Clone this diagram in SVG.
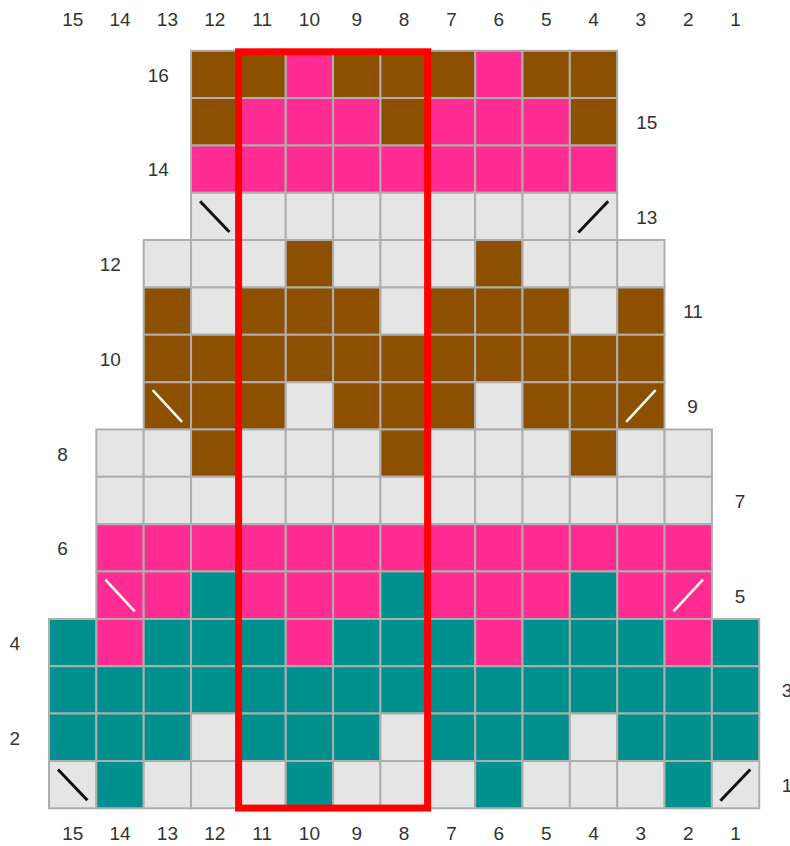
<svg xmlns="http://www.w3.org/2000/svg" width="790" height="846" viewBox="0 0 790 846">
<style>
rect.c{stroke:#aeaeae;stroke-width:2;vector-effect:non-scaling-stroke;width:1px;height:1px}
.g{fill:#e5e5e5}.b{fill:#8c5000}.p{fill:#ff2d91}.t{fill:#00918e}
line.k{stroke:#111;stroke-width:3;vector-effect:non-scaling-stroke}
line.w{stroke:#fff;stroke-width:2.5;vector-effect:non-scaling-stroke}
text{font-family:"Liberation Sans",Arial,sans-serif;font-size:19px;fill:#333;text-anchor:middle}
</style>
<rect width="790" height="846" fill="#fff"/>
<g id="chart" transform="translate(49 50.7) scale(47.35)">
<g id="row16">
<rect class="c b" x="3" y="0" width="1" height="1"/><rect class="c b" x="4" y="0" width="1" height="1"/><rect class="c p" x="5" y="0" width="1" height="1"/><rect class="c b" x="6" y="0" width="1" height="1"/><rect class="c b" x="7" y="0" width="1" height="1"/><rect class="c b" x="8" y="0" width="1" height="1"/><rect class="c p" x="9" y="0" width="1" height="1"/><rect class="c b" x="10" y="0" width="1" height="1"/><rect class="c b" x="11" y="0" width="1" height="1"/>
</g>
<g id="row15">
<rect class="c b" x="3" y="1" width="1" height="1"/><rect class="c p" x="4" y="1" width="1" height="1"/><rect class="c p" x="5" y="1" width="1" height="1"/><rect class="c p" x="6" y="1" width="1" height="1"/><rect class="c b" x="7" y="1" width="1" height="1"/><rect class="c p" x="8" y="1" width="1" height="1"/><rect class="c p" x="9" y="1" width="1" height="1"/><rect class="c p" x="10" y="1" width="1" height="1"/><rect class="c b" x="11" y="1" width="1" height="1"/>
</g>
<g id="row14">
<rect class="c p" x="3" y="2" width="1" height="1"/><rect class="c p" x="4" y="2" width="1" height="1"/><rect class="c p" x="5" y="2" width="1" height="1"/><rect class="c p" x="6" y="2" width="1" height="1"/><rect class="c p" x="7" y="2" width="1" height="1"/><rect class="c p" x="8" y="2" width="1" height="1"/><rect class="c p" x="9" y="2" width="1" height="1"/><rect class="c p" x="10" y="2" width="1" height="1"/><rect class="c p" x="11" y="2" width="1" height="1"/>
</g>
<g id="row13">
<rect class="c g" x="3" y="3" width="1" height="1"/><rect class="c g" x="4" y="3" width="1" height="1"/><rect class="c g" x="5" y="3" width="1" height="1"/><rect class="c g" x="6" y="3" width="1" height="1"/><rect class="c g" x="7" y="3" width="1" height="1"/><rect class="c g" x="8" y="3" width="1" height="1"/><rect class="c g" x="9" y="3" width="1" height="1"/><rect class="c g" x="10" y="3" width="1" height="1"/><rect class="c g" x="11" y="3" width="1" height="1"/>
<line class="k" x1="3.19" y1="3.18" x2="3.81" y2="3.83"/>
<line class="k" x1="11.18" y1="3.84" x2="11.81" y2="3.18"/>
</g>
<g id="row12">
<rect class="c g" x="2" y="4" width="1" height="1"/><rect class="c g" x="3" y="4" width="1" height="1"/><rect class="c g" x="4" y="4" width="1" height="1"/><rect class="c b" x="5" y="4" width="1" height="1"/><rect class="c g" x="6" y="4" width="1" height="1"/><rect class="c g" x="7" y="4" width="1" height="1"/><rect class="c g" x="8" y="4" width="1" height="1"/><rect class="c b" x="9" y="4" width="1" height="1"/><rect class="c g" x="10" y="4" width="1" height="1"/><rect class="c g" x="11" y="4" width="1" height="1"/><rect class="c g" x="12" y="4" width="1" height="1"/>
</g>
<g id="row11">
<rect class="c b" x="2" y="5" width="1" height="1"/><rect class="c g" x="3" y="5" width="1" height="1"/><rect class="c b" x="4" y="5" width="1" height="1"/><rect class="c b" x="5" y="5" width="1" height="1"/><rect class="c b" x="6" y="5" width="1" height="1"/><rect class="c g" x="7" y="5" width="1" height="1"/><rect class="c b" x="8" y="5" width="1" height="1"/><rect class="c b" x="9" y="5" width="1" height="1"/><rect class="c b" x="10" y="5" width="1" height="1"/><rect class="c g" x="11" y="5" width="1" height="1"/><rect class="c b" x="12" y="5" width="1" height="1"/>
</g>
<g id="row10">
<rect class="c b" x="2" y="6" width="1" height="1"/><rect class="c b" x="3" y="6" width="1" height="1"/><rect class="c b" x="4" y="6" width="1" height="1"/><rect class="c b" x="5" y="6" width="1" height="1"/><rect class="c b" x="6" y="6" width="1" height="1"/><rect class="c b" x="7" y="6" width="1" height="1"/><rect class="c b" x="8" y="6" width="1" height="1"/><rect class="c b" x="9" y="6" width="1" height="1"/><rect class="c b" x="10" y="6" width="1" height="1"/><rect class="c b" x="11" y="6" width="1" height="1"/><rect class="c b" x="12" y="6" width="1" height="1"/>
</g>
<g id="row9">
<rect class="c b" x="2" y="7" width="1" height="1"/><rect class="c b" x="3" y="7" width="1" height="1"/><rect class="c b" x="4" y="7" width="1" height="1"/><rect class="c g" x="5" y="7" width="1" height="1"/><rect class="c b" x="6" y="7" width="1" height="1"/><rect class="c b" x="7" y="7" width="1" height="1"/><rect class="c b" x="8" y="7" width="1" height="1"/><rect class="c g" x="9" y="7" width="1" height="1"/><rect class="c b" x="10" y="7" width="1" height="1"/><rect class="c b" x="11" y="7" width="1" height="1"/><rect class="c b" x="12" y="7" width="1" height="1"/>
<line class="w" x1="2.19" y1="7.17" x2="2.81" y2="7.84"/>
<line class="w" x1="12.19" y1="7.84" x2="12.81" y2="7.17"/>
</g>
<g id="row8">
<rect class="c g" x="1" y="8" width="1" height="1"/><rect class="c g" x="2" y="8" width="1" height="1"/><rect class="c b" x="3" y="8" width="1" height="1"/><rect class="c g" x="4" y="8" width="1" height="1"/><rect class="c g" x="5" y="8" width="1" height="1"/><rect class="c g" x="6" y="8" width="1" height="1"/><rect class="c b" x="7" y="8" width="1" height="1"/><rect class="c g" x="8" y="8" width="1" height="1"/><rect class="c g" x="9" y="8" width="1" height="1"/><rect class="c g" x="10" y="8" width="1" height="1"/><rect class="c b" x="11" y="8" width="1" height="1"/><rect class="c g" x="12" y="8" width="1" height="1"/><rect class="c g" x="13" y="8" width="1" height="1"/>
</g>
<g id="row7">
<rect class="c g" x="1" y="9" width="1" height="1"/><rect class="c g" x="2" y="9" width="1" height="1"/><rect class="c g" x="3" y="9" width="1" height="1"/><rect class="c g" x="4" y="9" width="1" height="1"/><rect class="c g" x="5" y="9" width="1" height="1"/><rect class="c g" x="6" y="9" width="1" height="1"/><rect class="c g" x="7" y="9" width="1" height="1"/><rect class="c g" x="8" y="9" width="1" height="1"/><rect class="c g" x="9" y="9" width="1" height="1"/><rect class="c g" x="10" y="9" width="1" height="1"/><rect class="c g" x="11" y="9" width="1" height="1"/><rect class="c g" x="12" y="9" width="1" height="1"/><rect class="c g" x="13" y="9" width="1" height="1"/>
</g>
<g id="row6">
<rect class="c p" x="1" y="10" width="1" height="1"/><rect class="c p" x="2" y="10" width="1" height="1"/><rect class="c p" x="3" y="10" width="1" height="1"/><rect class="c p" x="4" y="10" width="1" height="1"/><rect class="c p" x="5" y="10" width="1" height="1"/><rect class="c p" x="6" y="10" width="1" height="1"/><rect class="c p" x="7" y="10" width="1" height="1"/><rect class="c p" x="8" y="10" width="1" height="1"/><rect class="c p" x="9" y="10" width="1" height="1"/><rect class="c p" x="10" y="10" width="1" height="1"/><rect class="c p" x="11" y="10" width="1" height="1"/><rect class="c p" x="12" y="10" width="1" height="1"/><rect class="c p" x="13" y="10" width="1" height="1"/>
</g>
<g id="row5">
<rect class="c p" x="1" y="11" width="1" height="1"/><rect class="c p" x="2" y="11" width="1" height="1"/><rect class="c t" x="3" y="11" width="1" height="1"/><rect class="c p" x="4" y="11" width="1" height="1"/><rect class="c p" x="5" y="11" width="1" height="1"/><rect class="c p" x="6" y="11" width="1" height="1"/><rect class="c t" x="7" y="11" width="1" height="1"/><rect class="c p" x="8" y="11" width="1" height="1"/><rect class="c p" x="9" y="11" width="1" height="1"/><rect class="c p" x="10" y="11" width="1" height="1"/><rect class="c t" x="11" y="11" width="1" height="1"/><rect class="c p" x="12" y="11" width="1" height="1"/><rect class="c p" x="13" y="11" width="1" height="1"/>
<line class="w" x1="1.19" y1="11.17" x2="1.81" y2="11.84"/>
<line class="w" x1="13.19" y1="11.84" x2="13.81" y2="11.17"/>
</g>
<g id="row4">
<rect class="c t" x="0" y="12" width="1" height="1"/><rect class="c p" x="1" y="12" width="1" height="1"/><rect class="c t" x="2" y="12" width="1" height="1"/><rect class="c t" x="3" y="12" width="1" height="1"/><rect class="c t" x="4" y="12" width="1" height="1"/><rect class="c p" x="5" y="12" width="1" height="1"/><rect class="c t" x="6" y="12" width="1" height="1"/><rect class="c t" x="7" y="12" width="1" height="1"/><rect class="c t" x="8" y="12" width="1" height="1"/><rect class="c p" x="9" y="12" width="1" height="1"/><rect class="c t" x="10" y="12" width="1" height="1"/><rect class="c t" x="11" y="12" width="1" height="1"/><rect class="c t" x="12" y="12" width="1" height="1"/><rect class="c p" x="13" y="12" width="1" height="1"/><rect class="c t" x="14" y="12" width="1" height="1"/>
</g>
<g id="row3">
<rect class="c t" x="0" y="13" width="1" height="1"/><rect class="c t" x="1" y="13" width="1" height="1"/><rect class="c t" x="2" y="13" width="1" height="1"/><rect class="c t" x="3" y="13" width="1" height="1"/><rect class="c t" x="4" y="13" width="1" height="1"/><rect class="c t" x="5" y="13" width="1" height="1"/><rect class="c t" x="6" y="13" width="1" height="1"/><rect class="c t" x="7" y="13" width="1" height="1"/><rect class="c t" x="8" y="13" width="1" height="1"/><rect class="c t" x="9" y="13" width="1" height="1"/><rect class="c t" x="10" y="13" width="1" height="1"/><rect class="c t" x="11" y="13" width="1" height="1"/><rect class="c t" x="12" y="13" width="1" height="1"/><rect class="c t" x="13" y="13" width="1" height="1"/><rect class="c t" x="14" y="13" width="1" height="1"/>
</g>
<g id="row2">
<rect class="c t" x="0" y="14" width="1" height="1"/><rect class="c t" x="1" y="14" width="1" height="1"/><rect class="c t" x="2" y="14" width="1" height="1"/><rect class="c g" x="3" y="14" width="1" height="1"/><rect class="c t" x="4" y="14" width="1" height="1"/><rect class="c t" x="5" y="14" width="1" height="1"/><rect class="c t" x="6" y="14" width="1" height="1"/><rect class="c g" x="7" y="14" width="1" height="1"/><rect class="c t" x="8" y="14" width="1" height="1"/><rect class="c t" x="9" y="14" width="1" height="1"/><rect class="c t" x="10" y="14" width="1" height="1"/><rect class="c g" x="11" y="14" width="1" height="1"/><rect class="c t" x="12" y="14" width="1" height="1"/><rect class="c t" x="13" y="14" width="1" height="1"/><rect class="c t" x="14" y="14" width="1" height="1"/>
</g>
<g id="row1">
<rect class="c g" x="0" y="15" width="1" height="1"/><rect class="c t" x="1" y="15" width="1" height="1"/><rect class="c g" x="2" y="15" width="1" height="1"/><rect class="c g" x="3" y="15" width="1" height="1"/><rect class="c g" x="4" y="15" width="1" height="1"/><rect class="c t" x="5" y="15" width="1" height="1"/><rect class="c g" x="6" y="15" width="1" height="1"/><rect class="c g" x="7" y="15" width="1" height="1"/><rect class="c g" x="8" y="15" width="1" height="1"/><rect class="c t" x="9" y="15" width="1" height="1"/><rect class="c g" x="10" y="15" width="1" height="1"/><rect class="c g" x="11" y="15" width="1" height="1"/><rect class="c g" x="12" y="15" width="1" height="1"/><rect class="c t" x="13" y="15" width="1" height="1"/><rect class="c g" x="14" y="15" width="1" height="1"/>
<line class="k" x1="0.19" y1="15.18" x2="0.81" y2="15.83"/>
<line class="k" x1="14.18" y1="15.84" x2="14.81" y2="15.18"/>
</g>
</g>
<rect id="highlight" x="238.6" y="51.8" width="189" height="756.3" fill="none" stroke="#ff0000" stroke-width="7"/>
<g id="col-labels-top">
<text x="72.7" y="26">15</text><text x="120" y="26">14</text><text x="167.4" y="26">13</text><text x="214.7" y="26">12</text><text x="262.1" y="26">11</text><text x="309.4" y="26">10</text><text x="356.8" y="26">9</text><text x="404.1" y="26">8</text><text x="451.5" y="26">7</text><text x="498.8" y="26">6</text><text x="546.2" y="26">5</text><text x="593.5" y="26">4</text><text x="640.9" y="26">3</text><text x="688.2" y="26">2</text><text x="735.6" y="26">1</text>
</g>
<g id="col-labels-bottom">
<text x="72.7" y="840">15</text><text x="120" y="840">14</text><text x="167.4" y="840">13</text><text x="214.7" y="840">12</text><text x="262.1" y="840">11</text><text x="309.4" y="840">10</text><text x="356.8" y="840">9</text><text x="404.1" y="840">8</text><text x="451.5" y="840">7</text><text x="498.8" y="840">6</text><text x="546.2" y="840">5</text><text x="593.5" y="840">4</text><text x="640.9" y="840">3</text><text x="688.2" y="840">2</text><text x="735.6" y="840">1</text>
</g>
<g id="row-labels">
<text x="158.3" y="81.7">16</text>
<text x="646.7" y="129">15</text>
<text x="158.3" y="176.4">14</text>
<text x="646.7" y="223.7">13</text>
<text x="110.3" y="271.1">12</text>
<text x="693" y="318.4">11</text>
<text x="110.3" y="365.8">10</text>
<text x="692.5" y="413.1">9</text>
<text x="62.5" y="460.5">8</text>
<text x="740" y="507.8">7</text>
<text x="62.5" y="555.2">6</text>
<text x="740" y="602.5">5</text>
<text x="14.7" y="649.9">4</text>
<text x="787" y="697.2">3</text>
<text x="14.7" y="744.6">2</text>
<text x="787" y="791.9">1</text>
</g>
</svg>
